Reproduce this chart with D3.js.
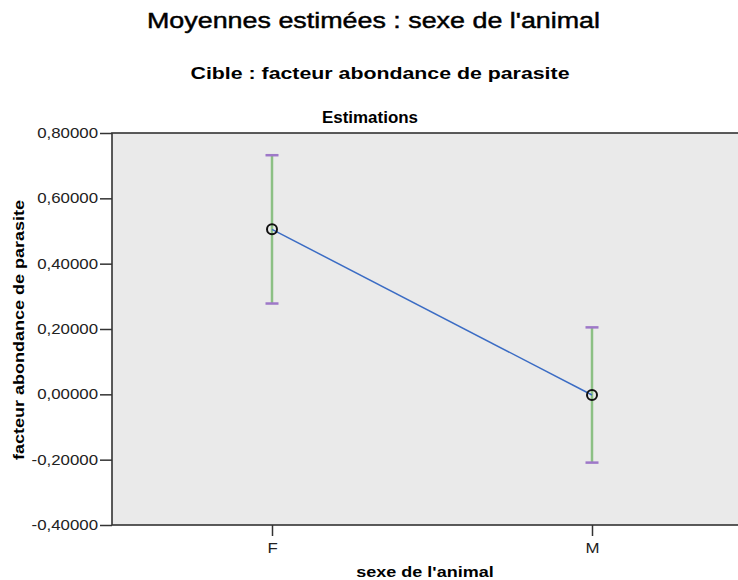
<!DOCTYPE html>
<html>
<head>
<meta charset="utf-8">
<script src="https://cdn.jsdelivr.net/npm/d3@7"></script>
<style>
  html, body { margin: 0; padding: 0; background: #fff; }
  svg { display: block; font-family: "Liberation Sans", Arial, sans-serif; }
</style>
</head>
<body>
<svg id="chart" width="738" height="580"></svg>
<script>
// ---- Data ----
const categories = ["F", "M"];
const means = [0.505, -0.002];
const lower = [0.278, -0.209];
const upper = [0.732, 0.205];
const yTicks = [-0.4, -0.2, 0.0, 0.2, 0.4, 0.6, 0.8];

const title = "Moyennes estimées : sexe de l'animal";
const subtitle = "Cible : facteur abondance de parasite";
const panelTitle = "Estimations";
const xLabel = "sexe de l'animal";
const yLabel = "facteur abondance de parasite";

// ---- Layout ----
const svg = d3.select("#chart");
const plot = { left: 112, right: 752, top: 133, bottom: 525 };

const x = d3.scalePoint().domain(categories).range([plot.left, plot.right]).padding(0.5);
const y = d3.scaleLinear().domain([-0.4, 0.8]).range([plot.bottom, plot.top]);

function stretch(sel, factor) {
  sel.each(function () {
    const w = this.getComputedTextLength();
    d3.select(this).attr("textLength", w * factor).attr("lengthAdjust", "spacingAndGlyphs");
  });
}

// Plot background
svg.append("rect")
  .attr("x", plot.left).attr("y", plot.top)
  .attr("width", plot.right - plot.left).attr("height", plot.bottom - plot.top)
  .attr("fill", "#EAEAEA").attr("stroke", "#333").attr("stroke-width", 1.6);

// Y axis
const yAxis = svg.append("g")
  .attr("transform", `translate(${plot.left},0)`)
  .call(d3.axisLeft(y).tickValues(yTicks).tickSize(12).tickPadding(2)
    .tickFormat(d => d3.format(".5f")(d).replace(".", ",").replace("−", "-")));
yAxis.select(".domain").remove();
yAxis.selectAll(".tick line").attr("stroke", "#333").attr("stroke-width", 1.5);
yAxis.selectAll(".tick text").attr("font-size", 14.5).attr("fill", "#222")
  .attr("font-family", "'Liberation Sans', Arial, sans-serif");
stretch(yAxis.selectAll(".tick text"), 1.16);

// X axis
const xAxis = svg.append("g")
  .attr("transform", `translate(0,${plot.bottom})`)
  .call(d3.axisBottom(x).tickSize(11).tickPadding(7));
xAxis.select(".domain").remove();
xAxis.selectAll(".tick line").attr("stroke", "#333").attr("stroke-width", 1.5);
xAxis.selectAll(".tick text").attr("font-size", 14.5).attr("fill", "#222")
  .attr("font-family", "'Liberation Sans', Arial, sans-serif");
stretch(xAxis.selectAll(".tick text"), 1.16);

// Data points
const pts = categories.map((c, i) => ({ c, m: means[i], lo: lower[i], hi: upper[i] }));

// Error bars
const eb = svg.append("g");
eb.selectAll("line.bar").data(pts).join("line").attr("class", "bar")
  .attr("x1", d => x(d.c)).attr("x2", d => x(d.c))
  .attr("y1", d => y(d.lo)).attr("y2", d => y(d.hi))
  .attr("stroke", "#8CC084").attr("stroke-width", 2.5);
["lo", "hi"].forEach(k => {
  eb.selectAll("line.cap" + k).data(pts).join("line").attr("class", "cap" + k)
    .attr("x1", d => x(d.c) - 6.5).attr("x2", d => x(d.c) + 6.5)
    .attr("y1", d => y(d[k])).attr("y2", d => y(d[k]))
    .attr("stroke", "#9E78C8").attr("stroke-width", 2.5);
});

// Line
svg.append("path").datum(pts)
  .attr("d", d3.line().x(d => x(d.c)).y(d => y(d.m)))
  .attr("fill", "none").attr("stroke", "#3B6CC4").attr("stroke-width", 1.5);

// Markers
svg.selectAll("circle.pt").data(pts).join("circle").attr("class", "pt")
  .attr("cx", d => x(d.c)).attr("cy", d => y(d.m)).attr("r", 5)
  .attr("fill", "none").attr("stroke", "#111").attr("stroke-width", 2);

// Titles
svg.append("text").attr("x", 373.5).attr("y", 28).attr("text-anchor", "middle")
  .attr("font-size", 22).attr("fill", "#000")
  .attr("stroke", "#000").attr("stroke-width", 0.45)
  .attr("textLength", 453).attr("lengthAdjust", "spacingAndGlyphs")
  .text(title);

svg.append("text").attr("x", 380).attr("y", 79).attr("text-anchor", "middle")
  .attr("font-size", 17).attr("font-weight", "bold").attr("fill", "#000")
  .attr("textLength", 379).attr("lengthAdjust", "spacingAndGlyphs")
  .text(subtitle);

const t3 = svg.append("text").attr("x", 370).attr("y", 123).attr("text-anchor", "middle")
  .attr("font-size", 16.5).attr("font-weight", "bold").attr("fill", "#000").text(panelTitle);
t3.attr("textLength", 96).attr("lengthAdjust", "spacingAndGlyphs");

const xl = svg.append("text").attr("x", 425).attr("y", 577).attr("text-anchor", "middle")
  .attr("font-size", 15).attr("font-weight", "bold").attr("fill", "#000").text(xLabel);
stretch(xl, 1.2);

const yl = svg.append("text").attr("transform", "translate(24,330) rotate(-90)")
  .attr("text-anchor", "middle")
  .attr("font-size", 15).attr("font-weight", "bold").attr("fill", "#000").text(yLabel);
stretch(yl, 1.2);
</script>
</body>
</html>
